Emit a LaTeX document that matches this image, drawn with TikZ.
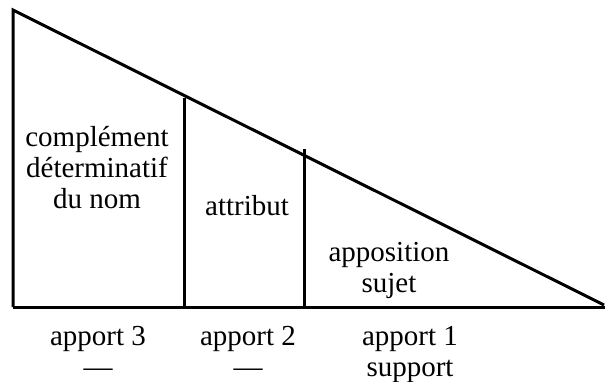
\documentclass[tikz,border=0pt]{standalone}
\usepackage{fontspec}
\setmainfont{Liberation Serif}
\begin{document}
\begin{tikzpicture}[x=0.5pt,y=-0.5pt,
  rule/.style={line width=1.5pt},
  lbl/.style={anchor=base,align=center,inner sep=0pt,font=\fontsize{14.5}{15.5}\selectfont}]
\useasboundingbox (0,0) rectangle (605,381);
\coordinate (A) at (13,10);
\coordinate (B) at (13,307);
\coordinate (C) at (605,307);
\coordinate (D) at (604,305);
\coordinate (V1t) at (184,98);
\coordinate (V1b) at (184,307);
\coordinate (V2t) at (304,149);
\coordinate (V2b) at (304,307);
\draw[rule,line join=miter] (B) -- (A) -- (D);
\draw[rule] (B) -- (C);
\draw[rule] (V1t) -- (V1b);
\draw[rule] (V2t) -- (V2b);
\node[lbl] (cdn) at (97,208) {complément\\déterminatif\\du nom};
\node[lbl] (att) at (247,215) {attribut};
\node[lbl] (app) at (389,292) {apposition\\sujet};
\node[lbl] (a3) at (98,376) {apport 3\\—};
\node[lbl] (a2) at (248,376) {apport 2\\—};
\node[lbl] (a1) at (410,376) {apport 1\\support};
\end{tikzpicture}
\end{document}
